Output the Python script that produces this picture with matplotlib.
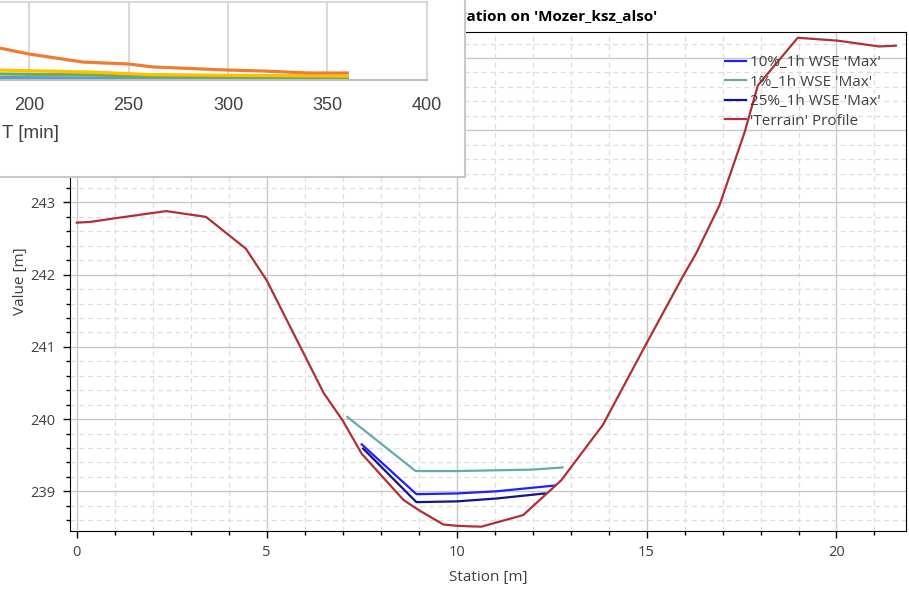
import matplotlib.pyplot as plt
from matplotlib.ticker import MultipleLocator
import numpy as np

# main profile data
terrain_sta = [0.0, 0.35, 1.0, 2.35, 3.4, 4.45, 5.0, 6.5, 7.0, 7.5, 8.05, 8.6, 9.0, 9.65, 10.05, 10.65,
               11.75, 12.75, 13.85, 15.0, 15.95, 16.3, 16.92, 17.58, 17.93, 18.98, 20.03, 21.12, 21.56]
terrain_z = [242.72, 242.73, 242.78, 242.88, 242.80, 242.36, 241.92, 240.36, 239.98, 239.52, 239.20, 238.88,
             238.74, 238.54, 238.52, 238.51, 238.67, 239.15, 239.92, 241.05, 241.97, 242.29, 242.96, 243.97,
             244.62, 245.28, 245.24, 245.16, 245.17]

wse10_sta = [7.50, 8.94, 10.0, 11.05, 12.59]
wse10_z = [239.65, 238.96, 238.97, 239.00, 239.08]
wse1_sta = [7.12, 8.92, 10.0, 11.0, 12.0, 12.79]
wse1_z = [240.03, 239.28, 239.28, 239.29, 239.30, 239.33]
wse25_sta = [7.54, 8.94, 10.0, 11.05, 12.32]
wse25_z = [239.59, 238.85, 238.86, 238.90, 238.97]
y_ticks = [239, 240, 241, 242, 243, 244, 245]
y_labels = ['239', '240', '241', '242', '243', '', '']  # 244/245 sit under the inset window

# inset (hydrograph window) data
t_min = [185, 200, 227, 250, 262, 300, 318, 340, 360]
q_orange = [1.64, 1.33, 0.92, 0.82, 0.67, 0.51, 0.46, 0.36, 0.36]
t_small = [185, 230, 260, 300, 360]
q_yellow = [0.51, 0.41, 0.28, 0.24, 0.20]
q_green = [0.31, 0.26, 0.18, 0.15, 0.13]
q_blue = [0.13, 0.10, 0.08, 0.06, 0.05]
t_ticks = [200, 250, 300, 350, 400]

W, H = 909, 592
fig = plt.figure(figsize=(W / 100, H / 100), dpi=100)
plt.rcParams['font.family'] = ['Open Sans', 'DejaVu Sans']
narrow = ['Liberation Sans Narrow', 'DejaVu Sans Condensed', 'Liberation Sans', 'DejaVu Sans']
fs = 11

def px(l, t, r, b):
    return [l / W, 1 - b / H, (r - l) / W, (b - t) / H]

ax = fig.add_axes(px(69.6, 32, 906, 531))
ax.plot(wse10_sta, wse10_z, color='#1f1fff', lw=1.6, label="10%_1h WSE 'Max'")
ax.plot(wse1_sta, wse1_z, color='#66aaaa', lw=1.6, label="1%_1h WSE 'Max'")
ax.plot(wse25_sta, wse25_z, color='#14148c', lw=1.6, label="25%_1h WSE 'Max'")
ax.plot(terrain_sta, terrain_z, color='#b03035', lw=1.6, label="'Terrain' Profile")

ax.set_xlim(-0.19, 21.83)
ax.set_ylim(238.45, 245.36)
ax.xaxis.set_major_locator(MultipleLocator(5))
ax.xaxis.set_minor_locator(MultipleLocator(1))
ax.set_yticks(y_ticks, y_labels)
ax.yaxis.set_minor_locator(MultipleLocator(0.2))
ax.grid(which='major', color='#c8c8c8', lw=1.0)
ax.grid(which='minor', color='#dedede', lw=0.9, ls=(0, (4, 3)))
ax.set_axisbelow(True)
ax.tick_params(which='major', length=5, width=1, colors='black', labelcolor='#404040', labelsize=10.5, pad=5)
ax.tick_params(which='minor', length=3, width=1, colors='black')
for s in ax.spines.values():
    s.set_color('black')
ax.set_xlabel('Station [m]', fontsize=fs, color='#404040', labelpad=7)
ax.set_ylabel('Value [m]', fontsize=fs, color='#404040', labelpad=2)
ax.text((657 - 69.6) / (906 - 69.6), 1 + 16 / 499, "Elevation on 'Mozer_ksz_also'", transform=ax.transAxes,
        ha='right', va='center', fontsize=11, fontweight='bold', color='black', clip_on=False)
leg = ax.legend(loc='upper left', bbox_to_anchor=((725 - 69.6) / 836.4, 1 - 23 / 499), frameon=False,
                fontsize=fs, handlelength=1.4, handletextpad=0.25, labelspacing=0.3, borderpad=0,
                borderaxespad=0)
for t in leg.get_texts():
    t.set_color('#404040')

# overlaid inset window
win = fig.add_axes(px(0, 0, 465, 177))
win.set_facecolor('white')
win.set_xticks([])
win.set_yticks([])
win.spines['top'].set_visible(False)
win.spines['left'].set_visible(False)
for s in ['right', 'bottom']:
    win.spines[s].set_color('#c8c8c8')
    win.spines[s].set_linewidth(1.5)

ins = fig.add_axes(px(0, 2, 426.7, 80))
ins.set_facecolor('white')
ins.plot(t_small, q_blue, color='#5b9bd5', lw=2.3)
ins.plot(t_small, q_green, color='#70ad47', lw=2.3)
ins.plot(t_small, q_yellow, color='#ffc000', lw=2.3)
ins.plot(t_min, q_orange, color='#ed7d31', lw=2.3)
ins.set_xlim(185.25, 400)
ins.set_ylim(0, 4)
ins.set_xticks(t_ticks)
ins.set_yticks([])
ins.grid(axis='x', color='#d9d9d9', lw=1.5)
ins.set_axisbelow(True)
ins.spines['left'].set_visible(False)
ins.spines['right'].set_color('#d9d9d9')
ins.spines['top'].set_color('#d9d9d9')
ins.spines['bottom'].set_color('#bfbfbf')
for s in ['right', 'top', 'bottom']:
    ins.spines[s].set_linewidth(1.5)
ins.tick_params(axis='x', length=0, pad=12, labelsize=13, labelcolor='#404040')
for lb in ins.get_xticklabels():
    lb.set_family(narrow)
fig.text(2 / W, 1 - 133 / H, 'T [min]', ha='left', va='center', fontsize=13.5, color='#404040',
         family=narrow, zorder=20)

fig.savefig('out.png', dpi=100)
